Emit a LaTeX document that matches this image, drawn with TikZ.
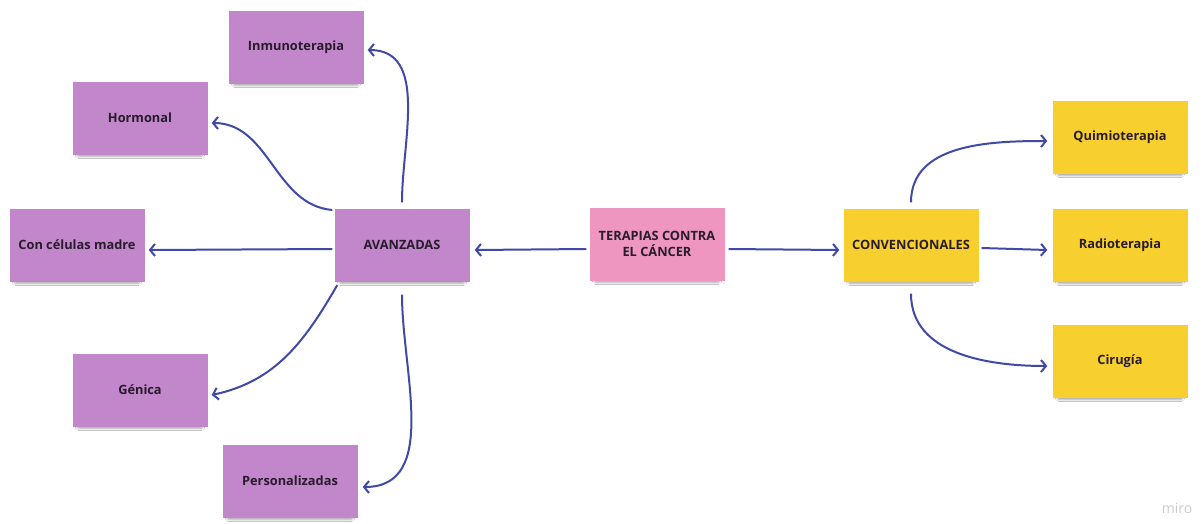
\documentclass[tikz,border=0pt]{standalone}
\usepackage{fontspec}
\setmainfont{Open Sans}
\usepackage{tikz}
\usetikzlibrary{arrows.meta,shadows.blur}
\definecolor{notepurple}{RGB}{194,134,202}
\definecolor{notepink}{RGB}{238,150,192}
\definecolor{noteyellow}{RGB}{247,208,48}
\definecolor{linkblue}{RGB}{64,74,166}
\definecolor{notetext}{RGB}{40,28,44}
\tikzset{
  note/.style={minimum width=135pt,minimum height=73pt,inner sep=2pt,align=center,
    text=notetext,font=\fontsize{12.8}{16}\selectfont\bfseries,
    blur shadow={shadow xshift=0pt,shadow yshift=-5pt,shadow scale=0.93,
      shadow blur steps=6,shadow blur extra rounding=2pt,shadow opacity=35}},
  purplenote/.style={note,fill=notepurple},
  yellownote/.style={note,fill=noteyellow},
  pinknote/.style={note,fill=notepink},
  link/.style={draw=linkblue,line width=2pt,-{Straight Barb[length=5pt,width=12pt,line width=2pt]}},
}
\begin{document}
\begin{tikzpicture}[x=1pt,y=-1pt]
  \useasboundingbox[fill=white] (0,0) rectangle (1203,523);
  % centre
  \node[pinknote] (root) at (657,244) {TERAPIAS CONTRA\\EL CÁNCER};
  % advanced branch
  \node[purplenote] (avz) at (402,245) {AVANZADAS};
  \node[purplenote] (inmuno) at (296,47) {Inmunoterapia};
  \node[purplenote] (hormonal) at (140,118) {Hormonal};
  \node[purplenote] (madre) at (77,245) {Con células madre};
  \node[purplenote] (genica) at (140,390) {Génica};
  \node[purplenote] (person) at (290,481) {Personalizadas};
  % conventional branch
  \node[yellownote] (conv) at (911,245) {CONVENCIONALES};
  \node[yellownote] (quimio) at (1120,137) {Quimioterapia};
  \node[yellownote] (radio) at (1120,245) {Radioterapia};
  \node[yellownote] (cirugia) at (1120,361) {Cirugía};
  % links
  \draw[link] ([xshift=-3pt,yshift=-5pt]root.west) -- ([xshift=5pt,yshift=-5pt]avz.east);
  \draw[link] ([xshift=4pt,yshift=-5pt]root.east) -- ([xshift=-4pt,yshift=-5pt]conv.west);
  \draw[link] ([xshift=3pt,yshift=-3pt]conv.east) -- ([xshift=-5pt,yshift=-5pt]radio.west);
  \draw[link] ([yshift=6pt]conv.north) to[out=90,in=180] ([xshift=-5pt,yshift=-4pt]quimio.west);
  \draw[link] ([yshift=-12pt]conv.south) to[out=-90,in=180] ([xshift=-5pt,yshift=-5pt]cirugia.west);
  \draw[link] ([yshift=6pt]avz.north) to[out=90,in=0] ([xshift=4pt,yshift=-3pt]inmuno.east);
  \draw[link] ([xshift=-2pt,yshift=35pt]avz.west) to[out=175,in=0] ([xshift=4pt,yshift=-5pt]hormonal.east);
  \draw[link] ([xshift=-2pt,yshift=-4pt]avz.west) -- ([xshift=4pt,yshift=-5pt]madre.east);
  \draw[link] ([xshift=3pt,yshift=-40pt]avz.west) to[out=-120,in=12] ([xshift=4pt,yshift=-5pt]genica.east);
  \draw[link] ([yshift=-13pt]avz.south) to[out=-90,in=0] ([xshift=5pt,yshift=-6pt]person.east);
  % board logo
  \node[text=black!20,font=\fontsize{14}{14}\selectfont] (logo) at (1177,508) {miro};
\end{tikzpicture}
\end{document}
